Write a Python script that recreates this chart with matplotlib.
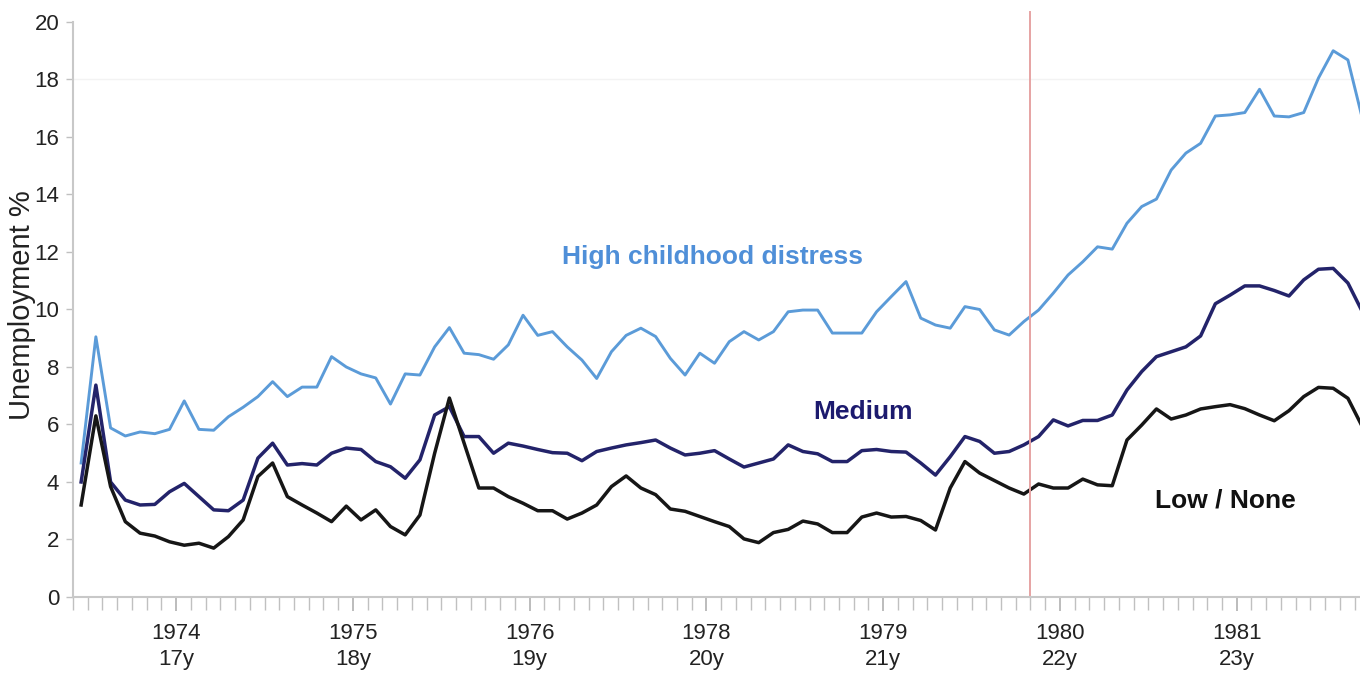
import matplotlib
matplotlib.use("Agg")
import matplotlib.pyplot as plt
import numpy as np

# valores (um ponto por mês)
high = [4.66, 9.05, 5.88, 5.6, 5.74, 5.68, 5.83, 6.82, 5.83, 5.8,
        6.27, 6.6, 6.97, 7.49, 6.97, 7.3, 7.3, 8.36, 8.0, 7.76,
        7.62, 6.71, 7.76, 7.72, 8.7, 9.37, 8.48, 8.43, 8.27, 8.77,
        9.8, 9.1, 9.23, 8.7, 8.24, 7.6, 8.53, 9.1, 9.35, 9.06,
        8.3, 7.72, 8.48, 8.13, 8.88, 9.23, 8.94, 9.23, 9.92, 9.98,
        9.98, 9.18, 9.18, 9.18, 9.92, 10.45, 10.97, 9.7, 9.46, 9.35,
        10.1, 10.0, 9.29, 9.11, 9.58, 9.98, 10.57, 11.2, 11.66, 12.18,
        12.1, 13.0, 13.58, 13.84, 14.85, 15.44, 15.78, 16.73, 16.77, 16.85,
        17.66, 16.73, 16.7, 16.85, 18.05, 19.0, 18.68, 16.6]

medium = [4.0, 7.37, 4.0, 3.37, 3.2, 3.22, 3.66, 3.95, 3.49, 3.03,
          3.0, 3.37, 4.83, 5.35, 4.59, 4.64, 4.59, 5.0, 5.18, 5.13,
          4.71, 4.53, 4.13, 4.77, 6.33, 6.62, 5.58, 5.58, 5.0, 5.35,
          5.25, 5.13, 5.02, 5.0, 4.74, 5.06, 5.18, 5.29, 5.37, 5.46,
          5.18, 4.94, 5.0, 5.09, 4.8, 4.52, 4.66, 4.8, 5.29, 5.06,
          4.98, 4.71, 4.71, 5.09, 5.13, 5.06, 5.04, 4.66, 4.24, 4.88,
          5.58, 5.41, 5.0, 5.06, 5.29, 5.58, 6.16, 5.95, 6.14, 6.14,
          6.33, 7.2, 7.84, 8.36, 8.53, 8.7, 9.08, 10.2, 10.5, 10.82,
          10.82, 10.66, 10.47, 11.03, 11.4, 11.43, 10.92, 9.9]

low = [3.2, 6.3, 3.84, 2.62, 2.22, 2.12, 1.92, 1.8, 1.87, 1.7,
       2.1, 2.68, 4.19, 4.66, 3.49, 3.2, 2.92, 2.62, 3.16, 2.68,
       3.03, 2.45, 2.16, 2.85, 5.0, 6.92, 5.35, 3.79, 3.79, 3.49,
       3.26, 3.0, 3.0, 2.71, 2.92, 3.2, 3.84, 4.21, 3.79, 3.56,
       3.06, 2.98, 2.8, 2.62, 2.45, 2.02, 1.89, 2.24, 2.35, 2.64,
       2.54, 2.24, 2.24, 2.78, 2.92, 2.78, 2.8, 2.66, 2.33, 3.79,
       4.71, 4.31, 4.05, 3.79, 3.58, 3.93, 3.79, 3.79, 4.1, 3.9,
       3.87, 5.46, 5.98, 6.54, 6.19, 6.33, 6.54, 6.62, 6.69, 6.55,
       6.33, 6.13, 6.48, 6.97, 7.29, 7.26, 6.91, 5.9]

anos = ["1974\n17y", "1975\n18y", "1976\n19y", "1978\n20y",
        "1979\n21y", "1980\n22y", "1981\n23y"]
pos_anos = [7, 19, 31, 43, 55, 67, 79]
marco = 65  # linha vermelha

fonte = ["Liberation Sans", "DejaVu Sans"]

x = np.arange(len(high)) + 0.55

fig = plt.figure(figsize=(13.6, 6.79), dpi=100)
ax = fig.add_axes([0.0537, 0.1208, 0.9463, 0.8468])

ax.plot(x, high, color="#5b9bd8", lw=2.1)
ax.plot(x, medium, color="#23236a", lw=2.5)
ax.plot(x, low, color="#161616", lw=2.5)

ax.axvline(marco, ymin=0, ymax=1.018, color="#e6a3a3", lw=1.4, clip_on=False)
ax.axhline(18, color="#f3f3f3", lw=1, zorder=0)

ax.set_xlim(0, 87.37)
ax.set_ylim(0, 20)
ax.set_yticks(range(0, 21, 2))
ax.set_xticks(pos_anos)
ax.set_xticklabels(anos)
ax.set_xticks(np.arange(0, 88), minor=True)

for s in ["top", "right"]:
    ax.spines[s].set_visible(False)
for s in ["left", "bottom"]:
    ax.spines[s].set_color("#c8c8c8")
    ax.spines[s].set_linewidth(1.5)

ax.tick_params(axis="y", length=5, width=1, color="#c0c0c0", pad=5, labelsize=16)
ax.tick_params(axis="x", which="major", length=10, width=1.2, color="#b0b0b0", pad=9,
               labelsize=16)
ax.tick_params(axis="x", which="minor", length=9, width=1, color="#c0c0c0")
for lab in ax.get_xticklabels() + ax.get_yticklabels():
    lab.set_family(fonte)
    lab.set_color("#222222")
for lab in ax.get_xticklabels():
    lab.set_linespacing(1.3)

ax.set_ylabel("Unemployment %", fontsize=21, color="#222222",
              family=fonte)
ax.yaxis.set_label_coords(-0.029, 0.508)

ax.text(43.4, 11.83, "High childhood distress", color="#4f8fd8", fontsize=19,
        fontweight="bold", ha="center", va="center", family=fonte)
ax.text(53.6, 6.45, "Medium", color="#1c1a6e", fontsize=19,
        fontweight="bold", ha="center", va="center", family=fonte)
ax.text(78.2, 3.35, "Low / None", color="#111111", fontsize=19,
        fontweight="bold", ha="center", va="center", family=fonte)

fig.savefig("out.png", dpi=100)
